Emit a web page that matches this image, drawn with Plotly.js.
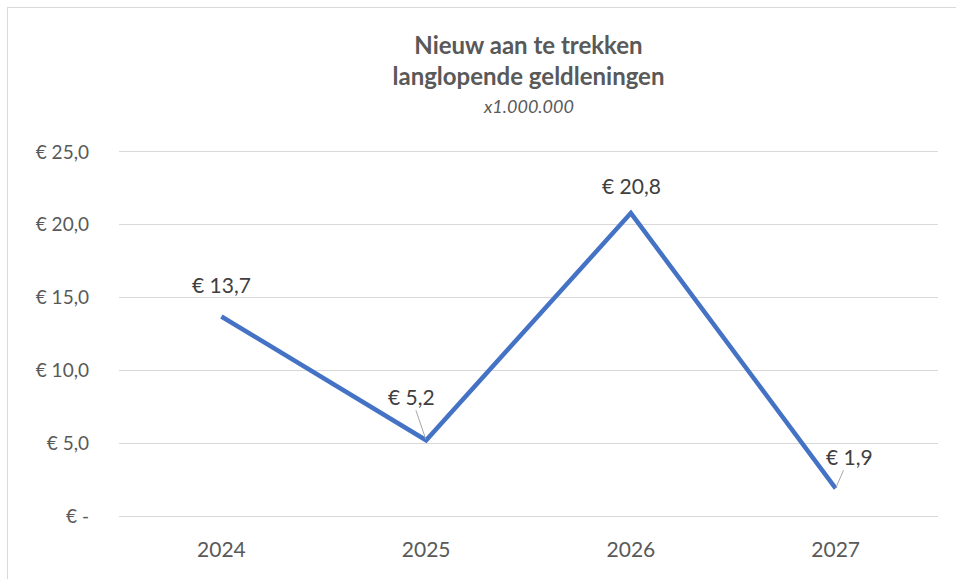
<!DOCTYPE html>
<html>
<head>
<meta charset="utf-8">
<script src="https://cdn.plot.ly/plotly-3.0.1.min.js"></script>
<style>
html,body{margin:0;padding:0;background:#fff;}
#wrap{position:relative;width:956px;height:579px;overflow:hidden;}
#chart{position:absolute;left:0;top:0;width:956px;height:579px;}
#frame{position:absolute;left:7px;top:7px;width:960px;height:600px;border-top:1px solid #d9d9d9;border-left:1px solid #d9d9d9;pointer-events:none;}
</style>
</head>
<body>
<div id="wrap"><div id="chart"></div><div id="frame"></div></div>
<script>
var years = ["2024", "2025", "2026", "2027"];
var values = [13.7, 5.2, 20.8, 1.9];
var tickVals = [0, 5, 10, 15, 20, 25];
var tickLabels = ["€ -", "€ 5,0", "€ 10,0", "€ 15,0", "€ 20,0", "€ 25,0"];
var titleLines = ["Nieuw aan te trekken", "langlopende geldleningen"];
var subtitle = "x1.000.000";

function fmt(v){ return "€ " + v.toFixed(1).replace(".", ","); }

var FONT = "Lato, 'Open Sans', sans-serif";

var trace = {
  type: "scatter",
  mode: "lines",
  x: years,
  y: values,
  line: {color: "#4472C4", width: 4.5},
  hoverinfo: "skip",
  cliponaxis: false
};

// label placement offsets (pixels) per point
var labelOffsets = [
  {ax: 0, ay: -32, arrow: false},
  {ax: -15, ay: -44, arrow: true},
  {ax: 1, ay: -28, arrow: false},
  {ax: 14, ay: -32, arrow: true}
];

var annotations = values.map(function(v, i){
  var o = labelOffsets[i];
  return {
    x: i, y: v, xref: "x", yref: "y",
    text: fmt(v),
    font: {family: FONT, size: 21, color: "#404040"},
    showarrow: true,
    ax: o.ax, ay: o.ay,
    arrowhead: 0,
    arrowwidth: 1,
    arrowcolor: o.arrow ? "#a6a6a6" : "rgba(0,0,0,0)",
    standoff: 1,
    borderpad: 1
  };
});

annotations.push({
  xref: "paper", yref: "paper",
  x: 0.5, y: (516 - 106) / 367,
  xanchor: "center", yanchor: "middle",
  showarrow: false,
  text: "<i>" + subtitle + "</i>",
  font: {family: FONT, size: 18, color: "#595959"}
});

var layout = {
  width: 956, height: 579,
  margin: {l: 119, r: 18, t: 149, b: 63},
  paper_bgcolor: "#ffffff",
  plot_bgcolor: "#ffffff",
  showlegend: false,
  title: {
    text: "<b>" + titleLines.join("<br>") + "</b>",
    font: {family: FONT, size: 24, color: "#595959"},
    x: 0.5, xanchor: "center",
    xref: "paper",
    y: 1 - 54 / 579, yanchor: "middle", yref: "container"
  },
  xaxis: {
    type: "category",
    range: [-0.5, 3.5],
    showgrid: false,
    zeroline: false,
    showline: false,
    ticks: "",
    ticklabelstandoff: 19,
    tickfont: {family: FONT, size: 21, color: "#595959"},
    fixedrange: true
  },
  yaxis: {
    range: [0, 25.2],
    tickvals: tickVals,
    ticktext: tickLabels,
    showgrid: true,
    gridcolor: "#d9d9d9",
    gridwidth: 1,
    zeroline: true,
    zerolinecolor: "#d9d9d9",
    zerolinewidth: 1,
    showline: false,
    ticks: "",
    ticklabelstandoff: 29,
    tickfont: {family: FONT, size: 19, color: "#595959"},
    fixedrange: true
  },
  annotations: annotations
};

Plotly.newPlot("chart", [trace], layout, {displayModeBar: false, staticPlot: true});
</script>
</body>
</html>
